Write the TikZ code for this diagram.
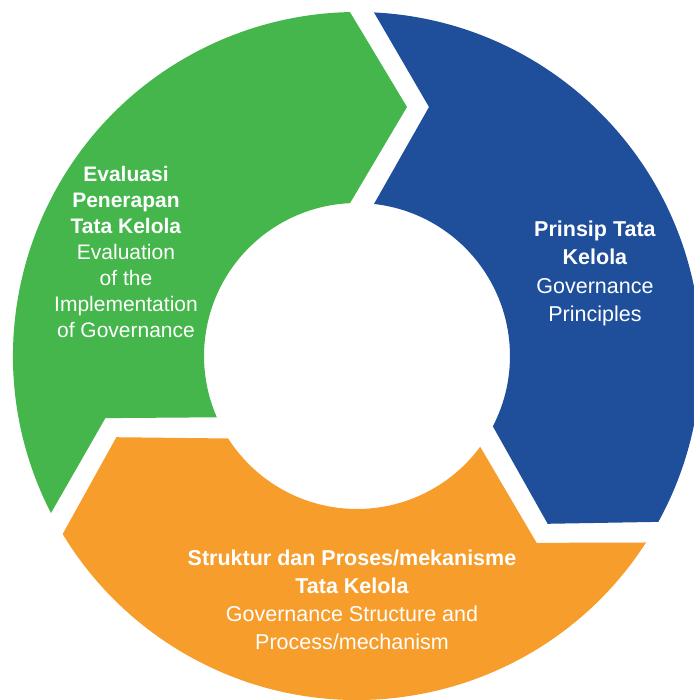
\documentclass[tikz,border=0pt]{standalone}
\usepackage{fontspec}
\setmainfont{Liberation Sans}
\usepackage{tikz}
\usetikzlibrary{calc}
\definecolor{govgreen}{HTML}{44B64B}
\definecolor{govblue}{HTML}{1F4F9B}
\definecolor{govorange}{HTML}{F79D2C}

\begin{document}
\begin{tikzpicture}[x = 1pt, y = 1pt]
  \tikzset{
    lbl/.style = {text = white, align = center, inner sep = 0pt},
    lblsmall/.style = {lbl, font = \fontsize{21}{26}\selectfont},
    lblbig/.style = {lbl, font = \fontsize{21.5}{28.3}\selectfont}
  }
  \useasboundingbox (-357,-344) rectangle (336,356);

  % three arrow segments of the ring
  \fill[govblue] (87.17:344) arc[start angle = 87.17, end angle = -28.83, radius = 344] -- (-41.35:254) -- (-27.38:153) arc[start angle = -27.38, end angle = 83.62, radius = 153] -- (73.87:259.2) -- cycle;
  \fill[govorange] (-32.83:344) arc[start angle = -32.83, end angle = -148.83, radius = 344] -- (-161.35:254) -- (-147.38:153) arc[start angle = -147.38, end angle = -36.38, radius = 153] -- (-46.13:259.2) -- cycle;
  \fill[govgreen] (207.17:344) arc[start angle = 207.17, end angle = 91.17, radius = 344] -- (78.65:254) -- (92.62:153) arc[start angle = 92.62, end angle = 203.62, radius = 153] -- (193.87:259.2) -- cycle;

  \node[lblbig] (prinsip) at (238,82.5) {\textbf{Prinsip Tata}\\\textbf{Kelola}\\Governance\\Principles};
  \node[lblbig] (struktur) at (-5,-243.8) {\textbf{Struktur dan Proses/mekanisme}\\\textbf{Tata Kelola}\\Governance Structure and\\Process/mechanism};
  \node[lblsmall] (evaluasi) at (-231,103.6) {\textbf{Evaluasi}\\\textbf{Penerapan}\\\textbf{Tata Kelola}\\Evaluation\\of the\\Implementation\\of Governance};
\end{tikzpicture}
\end{document}
